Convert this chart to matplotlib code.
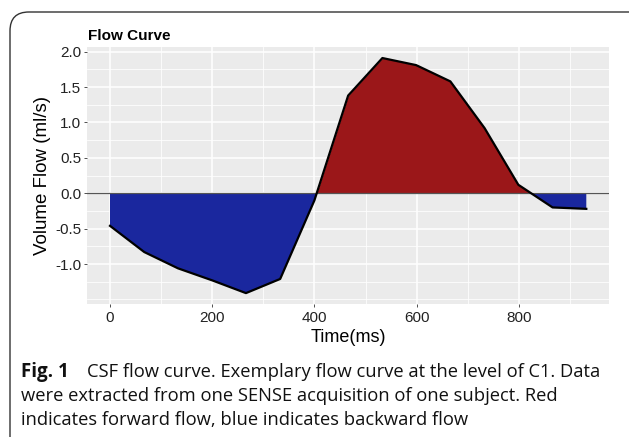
import matplotlib.pyplot as plt
from matplotlib.patches import FancyBboxPatch

# CSF flow curve, one cardiac cycle (15 phases)
time_ms = [0, 67, 133, 200, 266, 333, 400, 466, 533, 599, 666, 733, 799, 866, 932]
flow = [-0.46, -0.83, -1.06, -1.23, -1.41, -1.21, -0.10, 1.38, 1.91, 1.81,
        1.58, 0.92, 0.12, -0.20, -0.22]

x_major = [0, 200, 400, 600, 800]
x_minor = [100, 300, 500, 700, 900]
y_major = [-1.0, -0.5, 0.0, 0.5, 1.0, 1.5, 2.0]
y_minor = [-1.5, -1.25, -0.75, -0.25, 0.25, 0.75, 1.25, 1.75]

title = 'Flow Curve'
xlabel = 'Time(ms)'
ylabel = 'Volume Flow (ml/s)'

W, H = 629, 437
fig = plt.figure(figsize=(W / 100, H / 100), dpi=100)

# outer frame of the figure box (top-left rounded corner only shows)
frame = FancyBboxPatch((10 / W, -0.2), 1.2, 1 - 12 / H + 0.2,
                       boxstyle='round,pad=0,rounding_size=0.03',
                       transform=fig.transFigure, fill=False,
                       edgecolor='#333333', linewidth=1.0, mutation_aspect=W / H)
fig.patches.append(frame)

ax = fig.add_axes([86.7 / W, 1 - 304.3 / H, (609.3 - 86.7) / W, (304.3 - 46.7) / H])
ax.set_facecolor('#EBEBEB')
for s in ax.spines.values():
    s.set_visible(False)

ax.set_xlim(-45.6, 977)
ax.set_ylim(-1.568, 2.07)

ax.set_xticks(x_major)
ax.set_xticks(x_minor, minor=True)
ax.set_yticks(y_major)
ax.set_yticks(y_minor, minor=True)
ax.set_yticklabels([f'{v:.1f}' for v in y_major])
ax.grid(which='major', color='white', linewidth=1.1)
ax.grid(which='minor', color='white', linewidth=0.55)
ax.set_axisbelow(True)
ax.tick_params(which='major', length=2.5, width=0.6, color='#333333',
               labelsize=11, labelcolor='#222222', pad=1.5)
ax.tick_params(axis='x', pad=2.5)
ax.tick_params(which='minor', length=0)
for lab in ax.get_xticklabels() + ax.get_yticklabels():
    lab.set_fontfamily('Liberation Sans')

ax.fill_between(time_ms, flow, 0, where=[v >= 0 for v in flow], interpolate=True,
                color='#9B1719', linewidth=0)
ax.fill_between(time_ms, flow, 0, where=[v <= 0 for v in flow], interpolate=True,
                color='#1A279E', linewidth=0)
ax.axhline(0, color='#555555', linewidth=0.9)
ax.plot(time_ms, flow, color='black', linewidth=1.6, solid_joinstyle='round')

ax.set_xlabel(xlabel, fontsize=13, family='Liberation Sans', labelpad=3)
ax.set_ylabel(ylabel, fontsize=13.5, family='Liberation Sans', labelpad=3)
ax.set_title(title, fontsize=11, fontweight='bold', family='Liberation Sans',
             loc='left', x=0.003, pad=5)

# caption
cap_font = ['Open Sans', 'DejaVu Sans']
fig.text(21 / W, 1 - 372 / H, 'Fig. 1', fontsize=13.5, fontweight='bold',
         family=cap_font, va='center', color='#111111')
fig.text(87 / W, 1 - 372 / H, 'CSF flow curve. Exemplary flow curve at the level of C1. Data',
         fontsize=13.2, family=cap_font, va='center', color='#111111')
fig.text(21 / W, 1 - 396 / H, 'were extracted from one SENSE acquisition of one subject. Red',
         fontsize=13.2, family=cap_font, va='center', color='#111111')
fig.text(21 / W, 1 - 420 / H, 'indicates forward flow, blue indicates backward flow',
         fontsize=13.2, family=cap_font, va='center', color='#111111')

fig.savefig('out.png', dpi=100)
